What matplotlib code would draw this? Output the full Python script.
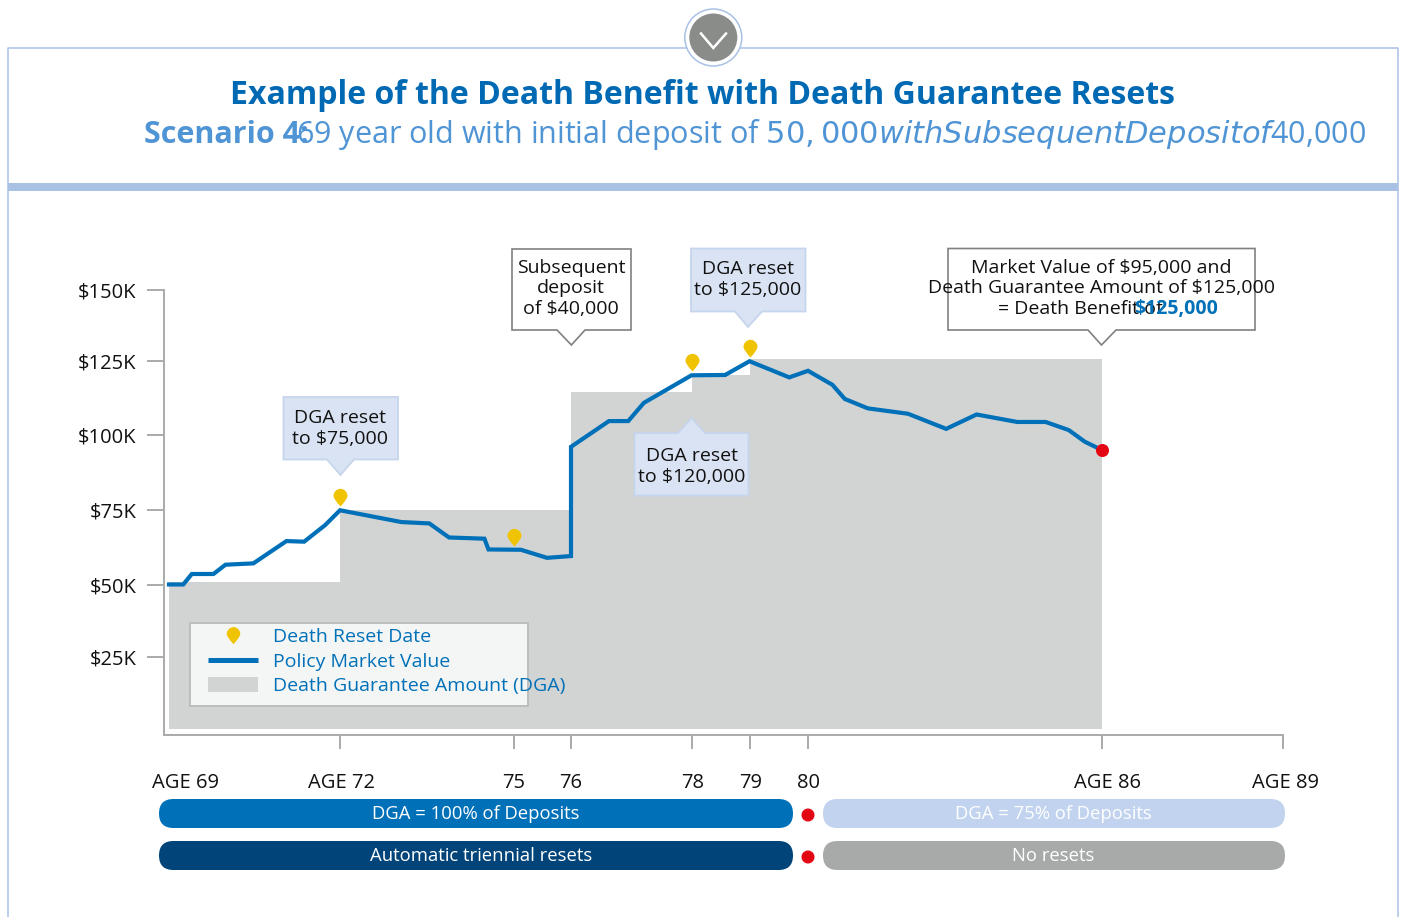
import numpy as np
import matplotlib
matplotlib.use("Agg")
import matplotlib.pyplot as plt
from matplotlib.patches import Rectangle, Polygon, Circle, FancyBboxPatch, Patch
from matplotlib.lines import Line2D
from matplotlib.path import Path
from matplotlib.transforms import ScaledTranslation

plt.rcParams['font.family'] = ['Liberation Sans Narrow', 'Open Sans', 'DejaVu Sans']

# ---- data ----
title = "Example of the Death Benefit with Death Guarantee Resets"
scenario_bold = "Scenario 4:"
scenario_rest = "69 year old with initial deposit of $50,000 with Subsequent Deposit of $40,000"

market_age = [69, 69.25, 69.40, 69.78, 69.99, 70.48, 71.06, 71.37, 71.74, 72,
              73.06, 73.54, 73.88, 74.49, 74.56, 75.12, 75.58, 76, 76,
              76.63, 76.95, 77.21, 78, 78.58, 79, 79.68, 80, 80.5, 80.75,
              81.22, 82.04, 82.82, 83.44, 84.27, 84.85, 85.32, 85.65, 86]
market_value = [50.2, 50.2, 53.7, 53.7, 56.8, 57.25, 64.7, 64.5, 70.05, 75,
                71.05, 70.6, 65.9, 65.5, 61.9, 61.8, 59.1, 59.7, 96.2,
                104.8, 104.8, 110.9, 120.1, 120.2, 124.8, 119.4, 121.6, 116.9, 112.2,
                109.05, 107.25, 102.2, 107, 104.5, 104.5, 101.8, 97.9, 95.1]

dga_age = [69, 72, 76, 78, 79, 86]
dga_value = [51, 75, 114.6, 120.2, 125.5, 125.5]
dga_floor = 1.9

reset_age = [72, 75, 78, 79]
reset_value = [75, 61.8, 120.1, 124.8]
end_age = [86]
end_value = [95.1]

y_tick_values = [25.9, 50, 75, 100, 125, 148.6]
y_tick_labels = ["$25K", "$50K", "$75K", "$100K", "$125K", "$150K"]
x_tick_ages = [69, 72, 75, 76, 78, 79, 80, 86, 89]
x_tick_labels = ["AGE 69", "AGE 72", "75", "76", "78", "79", "80", "AGE 86", "AGE 89"]
x_label_shift_px = [17, 2, 0, 0, 1, 1, 0, 6, 3]

legend_labels = ["Death Reset Date", "Policy Market Value", "Death Guarantee Amount (DGA)"]

# ---- colours ----
BLUE = "#0070b8"; GREY = "#d2d4d4"; GOLD = "#f0c300"; RED = "#e30613"
FRAME = "#a9c1e4"; AXISC = "#a9abab"; CALL = "#dae3f3"; CALLE = "#c5d5ec"
TXT = "#111111"

W, H = 1403, 917
DPI = 100
fig = plt.figure(figsize=(W / DPI, H / DPI), dpi=DPI, facecolor="white")

# main chart axes
L, R, T, B = 164, 1283, 290, 735
ax = fig.add_axes([L / W, 1 - B / H, (R - L) / W, (B - T) / H])

# the chart's age axis is not uniform: each marked age has its own spot
anchor_age = np.array([68.91, 69, 72, 75, 76, 78, 79, 80, 86, 89])
anchor_pos = np.array([164, 169, 340, 514, 571, 691.5, 749.5, 808, 1102, 1283], float)
ax.set_xscale('function', functions=(lambda a: np.interp(a, anchor_age, anchor_pos),
                                     lambda p: np.interp(p, anchor_pos, anchor_age)))
ax.set_xlim(68.91, 89)
ax.set_ylim(-0.1, 148.6)

# DGA steps
step_x = dga_age
ax.fill_between(step_x, dga_floor, dga_value, step='post', color=GREY, lw=0, zorder=1)
ax.plot(market_age, market_value, color=BLUE, lw=3.0, solid_joinstyle='miter', zorder=3)

# pin markers: anchor sits on the line, tip just above it
pin_codes = [Path.MOVETO, Path.CURVE3, Path.CURVE3, Path.CURVE4, Path.CURVE4, Path.CURVE4,
             Path.CURVE4, Path.CURVE4, Path.CURVE4, Path.CURVE3, Path.CURVE3, Path.CLOSEPOLY]
def pin_path(base):
    return Path(np.array([[0, 0], [-7, 7.5], [-7, 10.7], [-7, 14.6], [-3.6, 17.7], [0, 17.7],
                          [3.6, 17.7], [7, 14.6], [7, 10.7], [7, 7.5], [0, 0], [0, 0]], float)
                + [0, base], pin_codes)
pin = pin_path(4)
ax.plot(reset_age, reset_value, ls='', marker=pin, ms=21.7 * 2 * 0.72, color=GOLD, mew=0, zorder=4)
ax.plot(end_age, end_value, ls='', marker='o', ms=9.4, color=RED, mew=0, zorder=5)

# axes cosmetics
for s in ['top', 'right']:
    ax.spines[s].set_visible(False)
for s in ['left', 'bottom']:
    ax.spines[s].set_color(AXISC); ax.spines[s].set_linewidth(1.4)
ax.patch.set_alpha(0)
ax.set_yticks(y_tick_values, y_tick_labels)
ax.set_xticks(x_tick_ages, x_tick_labels)
ax.xaxis.set_minor_locator(matplotlib.ticker.NullLocator())
ax.tick_params(axis='y', length=12.5, width=1.4, color=AXISC, pad=7.5, labelsize=14.5, labelcolor=TXT)
ax.tick_params(axis='x', length=10, width=1.4, color=AXISC, pad=17, labelsize=14.5, labelcolor=TXT)
for tick, shift in zip(ax.xaxis.get_major_ticks(), x_label_shift_px):
    tick.label1.set_transform(tick.label1.get_transform()
                              + ScaledTranslation(shift / 72 * 72 / DPI, 0, fig.dpi_scale_trans))
ax.xaxis.get_major_ticks()[0].tick1line.set_visible(False)

# overlay in pixel coordinates for the frame, call-outs and bars
ov = fig.add_axes([0, 0, 1, 1], zorder=5)
ov.set_xlim(0, W); ov.set_ylim(H, 0); ov.axis('off'); ov.patch.set_alpha(0)

# frame
ov.plot([8, 8, 1398, 1398], [917, 47.5, 47.5, 917], color=FRAME, lw=1.1, zorder=1)
ov.add_patch(Rectangle((8, 183), 1390, 8, fc=FRAME, ec='none', zorder=1))
ov.add_patch(Circle((713.3, 37.5), 28.5, fc='white', ec=FRAME, lw=1.1, zorder=2))
ov.add_patch(Circle((713.3, 37.5), 24, fc="#8a8c8a", ec='none', zorder=3))
ov.plot([701, 713.3, 726], [33.5, 48, 33.5], color='white', lw=1.8, zorder=4, solid_joinstyle='miter')

# titles
ov.text(702.5, 96, title, color="#0069b4", fontsize=23, fontweight='bold', ha='center', va='center')
ov.text(144, 135, scenario_bold, color="#4f94d4", fontsize=22, fontweight='bold', ha='left', va='center')
ov.text(296, 135, scenario_rest, color="#4f94d4", fontsize=22, ha='left', va='center')

# call-outs
def callout(x0, x1, y0, y1, tip, base, up, fc, ec, lw):
    bx0, bx1 = base
    tx, ty = tip
    ey = y0 if up else y1
    if up:
        pts = [(x0, y0), (bx0, y0), (tx, ty), (bx1, y0), (x1, y0), (x1, y1), (x0, y1)]
    else:
        pts = [(x0, y0), (x1, y0), (x1, y1), (bx1, y1), (tx, ty), (bx0, y1), (x0, y1)]
    ov.add_patch(Polygon(pts, closed=True, fc=fc, ec=ec, lw=lw, joinstyle='miter', zorder=6))

FS = 14
def lines(x, ys, strs, color=TXT):
    for y, s in zip(ys, strs):
        ov.text(x, y, s, color=color, fontsize=FS, ha='center', va='center', zorder=7)

callout(283.5, 398, 397, 459.5, (340.5, 475), (327, 354), False, CALL, CALLE, 1.3)
lines(340.5, [418, 439], ["DGA reset", "to $75,000"])
callout(512, 631, 249, 330, (571.4, 345), (557, 585), False, 'white', "#808080", 1.2)
lines(571, [268, 288, 309], ["Subsequent", "deposit", "of $40,000"])
callout(691, 805.5, 248.5, 311.5, (748, 327), (735, 762), False, CALL, CALLE, 1.3)
lines(748, [269, 290], ["DGA reset", "to $125,000"])
callout(948, 1255, 248.5, 330, (1101.5, 345), (1088, 1116), False, 'white', "#808080", 1.2)
lines(1101, [268, 288], ["Market Value of $95,000 and", "Death Guarantee Amount of $125,000"])
ov.text(998, 309, "= Death Benefit of", color=TXT, fontsize=FS, ha='left', va='center', zorder=7)
ov.text(1134, 309, "$125,000", color=BLUE, fontsize=FS, fontweight='bold', ha='left', va='center', zorder=7)
callout(634.5, 748.5, 433, 495.5, (691.5, 418), (678, 705), True, CALL, CALLE, 1.3)
lines(691.5, [456, 477], ["DGA reset", "to $120,000"])

# legend
ov.add_patch(Rectangle((190, 622.5), 338, 83, fc="#f4f6f6", ec="#bcbebe", lw=1.4, zorder=6))
pin_legend = pin_path(-9)
handles = [Line2D([], [], ls='', marker=pin_legend, ms=12.5, color=GOLD, mew=0),
           Line2D([], [], color=BLUE, lw=3.6, solid_capstyle='butt'),
           Patch(fc=GREY, ec='none')]
leg = ov.legend(handles, legend_labels, loc='upper left', bbox_to_anchor=(208, 628),
                bbox_transform=ov.transData, frameon=False, borderpad=0, borderaxespad=0,
                fontsize=FS, labelcolor=BLUE, handlelength=50 * 72 / DPI / FS,
                handleheight=0.82, handletextpad=15 * 72 / DPI / FS, labelspacing=0.32)
leg.set_zorder(7)

# timeline bars
def bar(x0, x1, y0, color, text, tx, tcolor='white'):
    ov.add_patch(FancyBboxPatch((x0, y0), x1 - x0, 29, boxstyle="round,pad=0,rounding_size=14.5",
                                fc=color, ec='none', zorder=3))
    ov.text(tx, y0 + 15, text, color=tcolor, fontsize=13.3, ha='center', va='center', zorder=4)

bar(159, 793, 799, BLUE, "DGA = 100% of Deposits", 475.5)
bar(159, 793, 841, "#00447a", "Automatic triennial resets", 481)
bar(823, 1285, 799, "#c1d3ee", "DGA = 75% of Deposits", 1053)
bar(823, 1285, 841, "#a8a9a9", "No resets", 1053)
for y in (815, 857):
    ov.add_patch(Circle((808, y), 6.5, fc=RED, ec='none', zorder=4))

fig.savefig("out.png", dpi=DPI)
